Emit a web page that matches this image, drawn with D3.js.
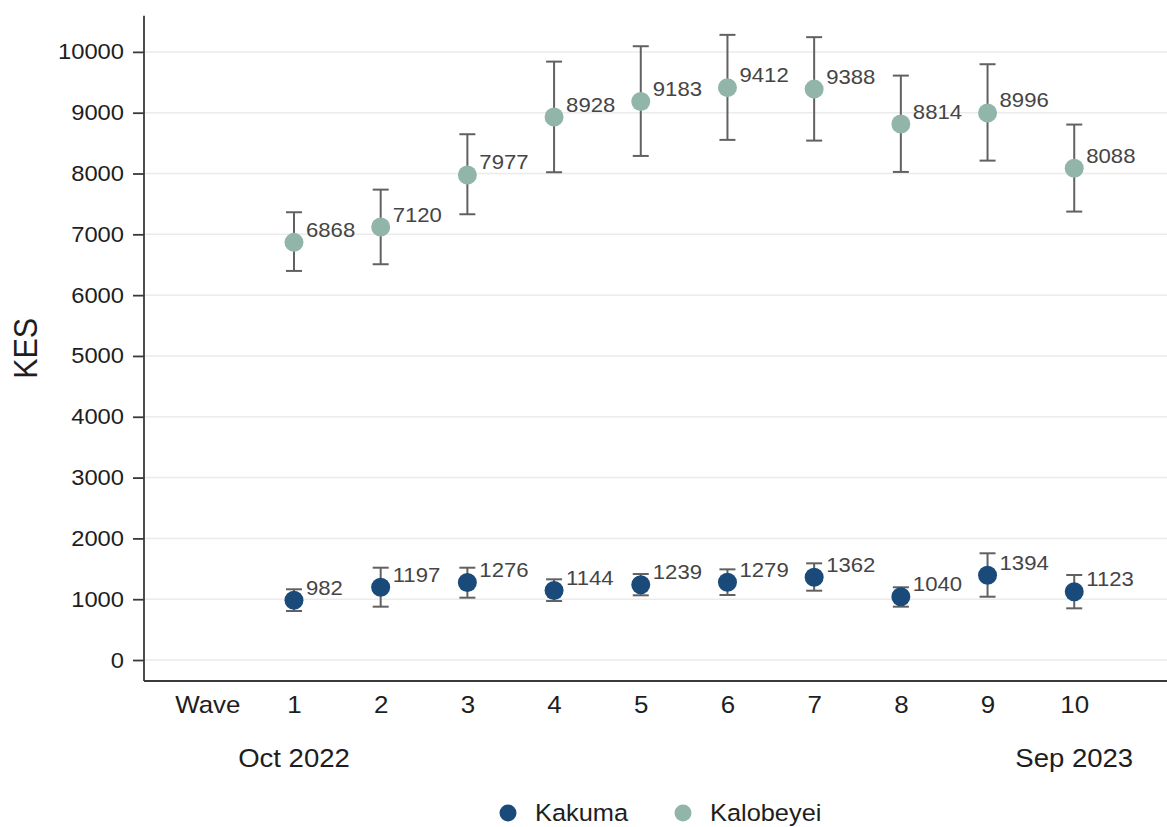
<!DOCTYPE html>
<html>
<head>
<meta charset="utf-8">
<script src="https://cdn.jsdelivr.net/npm/d3@7"></script>
<style>
  html, body { margin: 0; padding: 0; background: #ffffff; }
  svg { display: block; font-family: "Liberation Sans", Arial, Helvetica, sans-serif; }
</style>
</head>
<body>
<svg id="chart" width="1167" height="827"></svg>
<script>
// Survey waves and tick labels on the x axis
const waves = [1, 2, 3, 4, 5, 6, 7, 8, 9, 10];
const xTickValues = [0, 1, 2, 3, 4, 5, 6, 7, 8, 9, 10];
const xTickLabels = ["Wave", "1", "2", "3", "4", "5", "6", "7", "8", "9", "10"];
const periodWaves = [1, 10];
const periodLabels = ["Oct 2022", "Sep 2023"];
const yTicks = [0, 1000, 2000, 3000, 4000, 5000, 6000, 7000, 8000, 9000, 10000];

// Kakuma: mean and confidence interval (KES)
const kakumaMean = [982, 1197, 1276, 1144, 1239, 1279, 1362, 1040, 1394, 1123];
const kakumaLow  = [806, 877, 1025, 970, 1064, 1069, 1140, 877, 1041, 850];
const kakumaHigh = [1163, 1518, 1518, 1327, 1414, 1491, 1590, 1196, 1755, 1398];

// Kalobeyei: mean and confidence interval (KES)
const kalobeyeiMean = [6868, 7120, 7977, 8928, 9183, 9412, 9388, 8814, 8996, 8088];
const kalobeyeiLow  = [6398, 6508, 7330, 8021, 8289, 8553, 8541, 8026, 8212, 7374];
const kalobeyeiHigh = [7363, 7735, 8646, 9840, 10093, 10280, 10242, 9610, 9797, 8805];

const seriesNames = ["Kakuma", "Kalobeyei"];
const seriesColors = ["#1a4a7a", "#91b6a9"];

const series = [
  { name: seriesNames[0], color: seriesColors[0],
    rows: waves.map((w, i) => ({ w, v: kakumaMean[i], lo: kakumaLow[i], hi: kakumaHigh[i] })) },
  { name: seriesNames[1], color: seriesColors[1],
    rows: waves.map((w, i) => ({ w, v: kalobeyeiMean[i], lo: kalobeyeiLow[i], hi: kalobeyeiHigh[i] })) }
];

// text is drawn slightly wide
const textStretch = 1.08;

const svg = d3.select("#chart");
const plotLeft = 144, plotRight = 1167, plotTop = 15.7, plotBottom = 681;

const x = d3.scaleLinear().domain([-0.73, 11.07]).range([plotLeft, plotRight]);
const y = d3.scaleLinear().domain([-345, 10595]).range([plotBottom, plotTop]);

// place a text at (px, py) with the horizontal stretch applied
function placeText(sel, px, py) {
  sel.attr("x", 0).attr("y", 0)
     .attr("transform", (d, i) => `translate(${px(d, i)},${py(d, i)}) scale(${textStretch},1)`);
}

// horizontal grid
svg.append("g")
  .selectAll("line")
  .data(yTicks)
  .join("line")
  .attr("x1", plotLeft).attr("x2", plotRight)
  .attr("y1", d => y(d)).attr("y2", d => y(d))
  .attr("stroke", "#ebebeb")
  .attr("stroke-width", 1.5);

// error bars, then markers, then value labels
const capHalf = 8;
series.slice().reverse().forEach(s => {
  const g = svg.append("g");
  const bars = g.append("g")
    .attr("stroke", "#616161")
    .attr("stroke-width", 2)
    .attr("fill", "none");
  bars.selectAll("line.stem").data(s.rows).join("line")
    .attr("class", "stem")
    .attr("x1", d => x(d.w)).attr("x2", d => x(d.w))
    .attr("y1", d => y(d.lo)).attr("y2", d => y(d.hi));
  bars.selectAll("line.capHi").data(s.rows).join("line")
    .attr("class", "capHi")
    .attr("x1", d => x(d.w) - capHalf).attr("x2", d => x(d.w) + capHalf)
    .attr("y1", d => y(d.hi)).attr("y2", d => y(d.hi));
  bars.selectAll("line.capLo").data(s.rows).join("line")
    .attr("class", "capLo")
    .attr("x1", d => x(d.w) - capHalf).attr("x2", d => x(d.w) + capHalf)
    .attr("y1", d => y(d.lo)).attr("y2", d => y(d.lo));

  g.append("g").selectAll("circle").data(s.rows).join("circle")
    .attr("cx", d => x(d.w)).attr("cy", d => y(d.v))
    .attr("r", 9.5)
    .attr("fill", s.color);

  g.append("g").selectAll("text").data(s.rows).join("text")
    .call(placeText, d => x(d.w) + 12, d => y(d.v) - 5.5)
    .attr("font-size", 20.5)
    .attr("fill", "#454545")
    .text(d => d.v);
});

// y axis
const yAxis = d3.axisLeft(y).tickValues(yTicks).tickSize(11).tickPadding(8).tickFormat(d3.format("d"));
const gy = svg.append("g").attr("transform", `translate(${plotLeft},0)`).call(yAxis);
gy.select(".domain").attr("d", `M0,${plotTop}V${plotBottom}`).attr("stroke", "#3a3a3a").attr("stroke-width", 1.8);
gy.selectAll(".tick line").attr("stroke", "#3a3a3a").attr("stroke-width", 1.8);
gy.selectAll(".tick text")
  .attr("x", null)
  .attr("transform", `translate(-20,0) scale(${textStretch},1)`)
  .attr("font-size", 22).attr("fill", "#1e1e1e")
  .attr("font-family", "\"Liberation Sans\", Arial, sans-serif");

// x axis (labels only, no tick marks)
const xAxis = d3.axisBottom(x).tickValues(xTickValues).tickSize(0).tickPadding(15)
  .tickFormat((d, i) => xTickLabels[i]);
const gx = svg.append("g").attr("transform", `translate(0,${plotBottom})`).call(xAxis);
gx.select(".domain").attr("d", `M${plotLeft},0H${plotRight}`).attr("stroke", "#3a3a3a").attr("stroke-width", 1.8);
gx.selectAll(".tick text")
  .attr("y", null)
  .attr("transform", `translate(0,15) scale(${textStretch},1)`)
  .attr("font-size", 24).attr("fill", "#1e1e1e")
  .attr("font-family", "\"Liberation Sans\", Arial, sans-serif");

// period labels under the first and last wave
svg.append("g").selectAll("text").data(periodWaves).join("text")
  .call(placeText, d => x(d), () => 767)
  .attr("text-anchor", "middle")
  .attr("font-size", 25.5)
  .attr("fill", "#1e1e1e")
  .text((d, i) => periodLabels[i]);

// y axis title
svg.append("text")
  .attr("transform", `translate(37,${(plotTop + plotBottom) / 2}) scale(${textStretch},1) rotate(-90)`)
  .attr("text-anchor", "middle")
  .attr("font-size", 30.5)
  .attr("fill", "#1e1e1e")
  .text("KES");

// legend
const legendX = [508, 683];
const legend = svg.append("g").selectAll("g").data(series).join("g")
  .attr("transform", (d, i) => `translate(${legendX[i]},813)`);
legend.append("circle").attr("r", 8.5).attr("fill", d => d.color);
legend.append("text")
  .call(placeText, () => 27, () => 8)
  .attr("font-size", 23.5)
  .attr("fill", "#1e1e1e")
  .text(d => d.name);
</script>
</body>
</html>
